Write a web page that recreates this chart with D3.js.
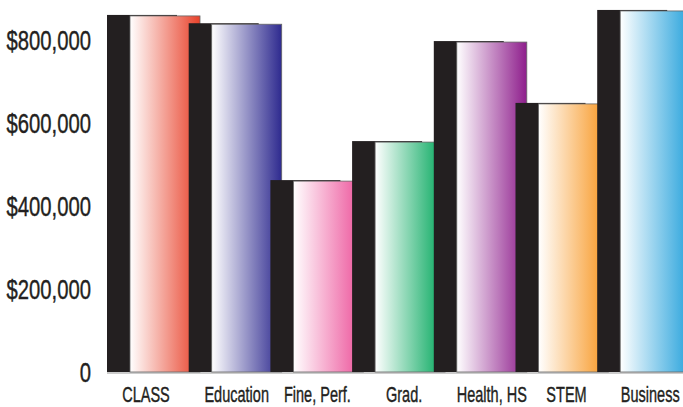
<!DOCTYPE html>
<html>
<head>
<meta charset="utf-8">
<script src="https://cdn.jsdelivr.net/npm/d3@7"></script>
<style>
  body { margin: 0; background: #fff; }
  svg { display: block; }
  .tick-label { font-family: "Liberation Sans", Arial, sans-serif; fill: #231f20; stroke: #231f20; stroke-width: 0.4; }
</style>
</head>
<body>
<div id="vis"></div>
<script>
const width = 683;
const height = 407;

// data
const categories = ['CLASS', 'Education', 'Fine, Perf.', 'Grad.', 'Health, HS', 'STEM', 'Business'];
const values = [858000, 838000, 460000, 554000, 795000, 646000, 870000];
const barColors = ['#e8412a', '#2e2a8f', '#ec4f98', '#00a65a', '#8e1e8c', '#f7941d', '#29a3dc'];
const yTicks = [0, 200000, 400000, 600000, 800000];
const labelShift = [39, 48, 47, 52, 58, 51, 53];

const data = categories.map((c, i) => ({name: c, value: values[i], color: barColors[i], shift: labelShift[i]}));

const svg = d3.select('#vis')
  .append('svg')
  .attr('width', width)
  .attr('height', height);

const defs = svg.append('defs');

const xScale = d3.scaleBand()
  .domain(categories)
  .range([107, 107 + 7 * 81.7])
  .padding(0);

const yScale = d3.scaleLinear()
  .domain([0, 800000])
  .range([372, 40]);

const shadowW = 70;
const offset = 23;

// gradients, white on left to colour on right
data.forEach((d, i) => {
  const g = defs.append('linearGradient')
    .attr('id', 'grad' + i)
    .attr('x1', '0%').attr('x2', '100%')
    .attr('y1', '0%').attr('y2', '0%');
  g.append('stop').attr('offset', '0%').attr('stop-color', '#ffffff');
  g.append('stop').attr('offset', '100%').attr('stop-color', d.color);
});

// baseline
svg.append('line')
  .attr('x1', xScale(categories[0]))
  .attr('x2', width)
  .attr('y1', yScale(0) + 1)
  .attr('y2', yScale(0) + 1)
  .attr('stroke', '#999')
  .attr('stroke-width', 1);

const groups = svg.selectAll('.cat')
  .data(data)
  .join('g')
  .attr('class', 'cat');

groups.append('rect')
  .attr('x', d => xScale(d.name))
  .attr('y', d => yScale(d.value) - 1)
  .attr('width', shadowW)
  .attr('height', d => yScale(0) - yScale(d.value) + 1)
  .attr('fill', '#231f20');

groups.append('rect')
  .attr('x', d => xScale(d.name) + offset)
  .attr('y', d => yScale(d.value))
  .attr('width', shadowW)
  .attr('height', d => yScale(0) - yScale(d.value))
  .attr('fill', (d, i) => `url(#grad${i})`)
  .attr('stroke', '#666')
  .attr('stroke-width', 0.8);

// y axis labels (condensed)
svg.selectAll('.ylab')
  .data(yTicks)
  .join('text')
  .attr('class', 'tick-label ylab')
  .attr('transform', d => `translate(91,${yScale(d)}) scale(0.75,1)`)
  .attr('dy', '0.36em')
  .attr('text-anchor', 'end')
  .style('font-size', '27px')
  .text(d => d === 0 ? '0' : '$' + d3.format(',')(d));

// x axis labels (condensed)
svg.selectAll('.xlab')
  .data(data)
  .join('text')
  .attr('class', 'tick-label xlab')
  .attr('transform', d => `translate(${xScale(d.name) + d.shift},402) scale(0.66,1)`)
  .attr('text-anchor', 'middle')
  .style('font-size', '22px')
  .text(d => d.name);
</script>
</body>
</html>
